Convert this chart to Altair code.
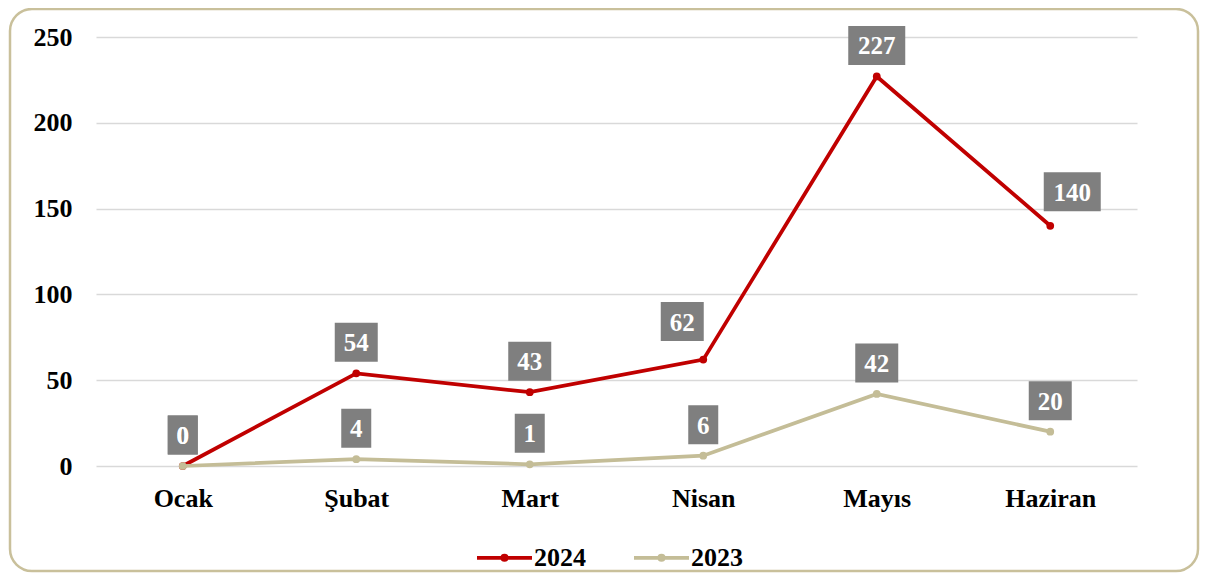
import altair as alt
import pandas as pd

months = ["Ocak", "Şubat", "Mart", "Nisan", "Mayıs", "Haziran"]
values_2024 = [0, 54, 43, 62, 227, 140]
values_2023 = [0, 4, 1, 6, 42, 20]
series = ["2024", "2023"]
y_ticks = [0, 50, 100, 150, 200, 250]

rows = []
for s, vals in zip(series, [values_2024, values_2023]):
    for m, v in zip(months, vals):
        rows.append({"ay": m, "deger": v, "yil": s})
df = pd.DataFrame(rows)

FONT = "Liberation Serif"
RED = "#C00000"
BEIGE = "#C4BD97"
GREY = "#7F7F7F"
BORDER = "#C9C09B"

x = alt.X(
    "ay:N", sort=months,
    scale=alt.Scale(type="point", padding=0.5),
    axis=alt.Axis(title=None, labelAngle=0, domain=False, ticks=False, tickSize=0,
                  grid=False, labelFont=FONT, labelFontSize=26, labelFontWeight="bold",
                  labelColor="black", labelPadding=19),
)
y = alt.Y(
    "deger:Q", scale=alt.Scale(domain=[0, 250], nice=False),
    axis=alt.Axis(values=y_ticks, title=None, domain=False, ticks=False, tickSize=0,
                  grid=True, gridColor="#D9D9D9", gridWidth=1.5,
                  labelFont=FONT, labelFontSize=26, labelFontWeight="bold",
                  labelColor="black", labelPadding=24),
)
legend_symbol = "M-1,0H1M0.08,0A0.08,0.08 0 1,1 -0.08,0A0.08,0.08 0 1,1 0.08,0"
color = alt.Color(
    "yil:N",
    scale=alt.Scale(domain=series, range=[RED, BEIGE]),
    legend=alt.Legend(title=None, orient="none", legendX=379, legendY=491,
                      direction="horizontal", symbolType=legend_symbol,
                      symbolSize=3025, symbolStrokeWidth=3.75,
                      labelFont=FONT, labelFontSize=26, labelFontWeight="bold",
                      labelColor="black", labelOffset=0, columnPadding=40, padding=0),
)

base = alt.Chart(df)

layers = []

border = alt.Chart(pd.DataFrame({"k": [0]})).mark_rect(
    fill="transparent", stroke=BORDER, strokeWidth=2.5, cornerRadius=22
).encode(x=alt.value(-86), x2=alt.value(1102), y=alt.value(-28), y2=alt.value(534))
layers.append(border)

for s in series:
    layers.append(
        base.transform_filter(alt.datum.yil == s)
        .mark_line(strokeWidth=3.75, point=alt.OverlayMarkDef(filled=True, size=60, opacity=1))
        .encode(x=x, y=y, color=color)
    )

box_paths = [
    "M-15,-19.5H15V19.5H-15Z",
    "M-21.5,-19.5H21.5V19.5H-21.5Z",
    "M-28.5,-19.5H28.5V19.5H-28.5Z",
]
shape = alt.Shape("ndig:N", scale=alt.Scale(domain=["1", "2", "3"], range=box_paths), legend=None)

special = [("Nisan", "2024", -21, -38), ("Haziran", "2024", 22, -34)]


def label_layers(filt, dx, dy):
    src = base.transform_filter(filt).transform_calculate(
        ndig="toString(length(toString(datum.deger)))"
    )
    box = src.mark_point(filled=True, size=4, color=GREY, opacity=1, strokeWidth=0,
                         xOffset=dx, yOffset=dy).encode(x=x, y=y, shape=shape)
    txt = src.mark_text(font=FONT, fontSize=25, fontWeight="bold", color="white",
                        align="center", baseline="middle", xOffset=dx, yOffset=dy + 1).encode(
        x=x, y=y, text="deger:Q")
    return [box, txt]


general_filter = "!((datum.ay == 'Nisan' && datum.yil == '2024') || (datum.ay == 'Haziran' && datum.yil == '2024'))"
layers += label_layers(general_filter, 0, -31)
for m, s, dx, dy in special:
    layers += label_layers(f"datum.ay == '{m}' && datum.yil == '{s}'", dx, dy)

chart = alt.layer(*layers).properties(
    width=1041, height=429,
    autosize=alt.AutoSizeParams(type="none"),
    padding={"left": 88, "top": 29, "right": 63, "bottom": 107},
    background="white",
).configure_view(strokeWidth=0)

chart.save("out.html", embed_options={"renderer": "svg", "actions": False})
